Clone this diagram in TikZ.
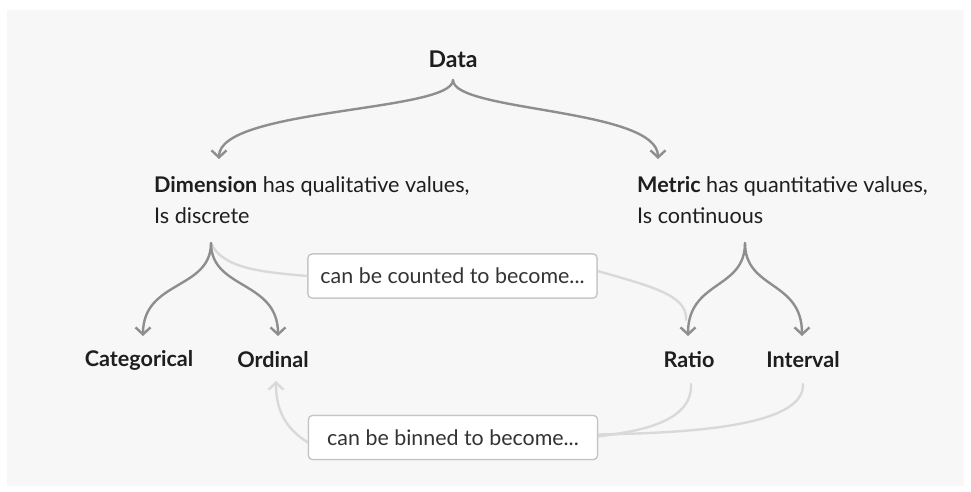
\documentclass[tikz,border=0pt]{standalone}
\usepackage{fontspec}
\setmainfont{Lato}
\usetikzlibrary{arrows.meta}
\definecolor{bgpanel}{HTML}{F7F7F7}
\definecolor{darkline}{HTML}{8E8E8E}
\definecolor{lightline}{HTML}{D9D9D9}
\definecolor{boxedge}{HTML}{C4C4C4}
\definecolor{ink}{HTML}{1E1E1E}
\definecolor{boxink}{HTML}{333333}
\tikzset{
  label/.style={font=\fontsize{21.6}{31}\selectfont, text=ink, inner sep=0pt},
  head/.style={label, font=\fontsize{21.6}{31}\selectfont\bfseries},
  note/.style={draw=boxedge, line width=1.2pt, fill=white, rounded corners=4pt,
    minimum width=289pt, minimum height=44pt, inner sep=0pt,
    font=\fontsize{21.4}{26}\selectfont, text=boxink},
  tree/.style={draw=darkline, line width=2.4pt, line cap=round,
    -{Straight Barb[length=7pt,width=15pt,line width=2.4pt]}},
  link/.style={draw=lightline, line width=2.4pt, line cap=round},
  linkarrow/.style={link, -{Straight Barb[length=7pt,width=15pt,line width=2.4pt]}}
}
\begin{document}
\begin{tikzpicture}[x=1pt,y=-1pt]
\useasboundingbox (0,0) rectangle (971,491);
\fill[bgpanel] (7,10) rectangle (964,486);

% text nodes
\node[head, font=\fontsize{23}{28}\selectfont\bfseries] (data) at (453,59) {Data};
\node[label, anchor=west, align=left] (dim) at (154,200)
  {\textbf{Dimension} has qualitative values,\\Is discrete};
\node[label, anchor=west, align=left] (met) at (637,200)
  {\textbf{Metric} has quantitative values,\\Is continuous};
\node[head] (cat) at (139,360) {Categorical};
\node[head] (ord) at (273,360) {Ordinal};
\node[head] (ratio) at (689,360) {Ratio};
\node[head] (intv) at (803,360) {Interval};

% branch points and arrow ends
\coordinate (dataroot) at (453,80);
\coordinate (dimroot) at (211,243);
\coordinate (metroot) at (745,243);
\coordinate (dimtip) at (219,159);
\coordinate (mettip) at (658,159);
\coordinate (cattip) at (143,336);
\coordinate (ordtip) at (278,336);
\coordinate (ratiotip) at (688,336);
\coordinate (intvtip) at (802,336);
\coordinate (ordbelow) at (276,381);
\coordinate (ratiobelow) at (691,384);
\coordinate (intvbelow) at (803,384);

% boxes
\node[note] (count) at (452.5,276) {can be counted to become...};
\node[note] (bin) at (453,437.5) {can be binned to become...};

% light conversion links
\draw[link] (dimroot) .. controls (222,268) and (260,272) .. (count.west);
\draw[link] ([yshift=5pt]count.east) .. controls (650,286) and (688,295) .. (686,320);
\draw[link] (ratiobelow) .. controls (693,425) and (630,432) .. ([yshift=1pt]bin.east);
\draw[link] (intvbelow) .. controls (805,428) and (680,433) .. ([yshift=3pt]bin.east);
\draw[linkarrow] ([yshift=-5pt]bin.west) .. controls (285,428) and (276,410) .. (ordbelow);

% hierarchy arrows
\draw[tree] (dataroot) .. controls (453,112) and (219,108) .. (dimtip);
\draw[tree] (dataroot) .. controls (453,112) and (658,108) .. (mettip);
\draw[tree] (dimroot) .. controls (211,290) and (143,280) .. (cattip);
\draw[tree] (dimroot) .. controls (211,290) and (278,280) .. (ordtip);
\draw[tree] (metroot) .. controls (745,290) and (688,280) .. (ratiotip);
\draw[tree] (metroot) .. controls (745,290) and (802,280) .. (intvtip);

% redraw boxes over the links
\node[note] at (count) {can be counted to become...};
\node[note] at (bin) {can be binned to become...};
\end{tikzpicture}
\end{document}
